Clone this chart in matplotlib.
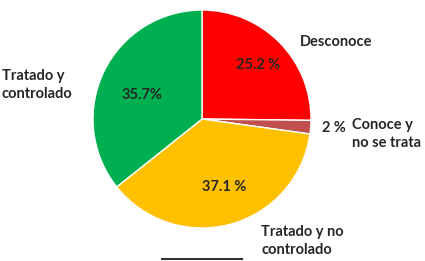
import matplotlib.pyplot as plt
from matplotlib.lines import Line2D

# slices, clockwise from 12 o'clock
labels = ["Desconoce", "Conoce y\nno se trata", "Tratado y no\ncontrolado", "Tratado y\ncontrolado"]
values = [25.2, 2.0, 37.1, 35.7]
pct_text = ["25.2 %", "2 %", "37.1 %", "35.7%"]
colors = ["#FF0000", "#C0504D", "#FFC000", "#00B050"]

# picture geometry in pixels
W, H = 425, 261
cx, cy, r = 202, 119, 109


def to_data(px, py):
    return (px - cx) / r, (cy - py) / r


plt.rcParams['font.family'] = ['Lato', 'DejaVu Sans']

fig = plt.figure(figsize=(W / 100, H / 100), dpi=100)
ax = fig.add_axes([0, 0, 1, 1])

ax.pie(values, colors=colors, startangle=90, counterclock=False, radius=1,
       wedgeprops=dict(edgecolor="white", linewidth=1))

# pie resets the limits, so set them afterwards
ax.set_xlim(-cx / r, (W - cx) / r)
ax.set_ylim(-(H - cy) / r, cy / r)
ax.axis("off")

txt = "#262626"
fs = 10.5

# percentages
pct_pos = [(258, 65), (334, 128), (224, 187), (142, 95)]
for s, (px, py) in zip(pct_text, pct_pos):
    x, y = to_data(px, py)
    ax.text(x, y, s, ha="center", va="center", fontsize=fs, fontweight="bold", color=txt)

# category names
name_pos = [(300, 42), (352, 134), (261, 241), (2, 85)]
for s, (px, py) in zip(labels, name_pos):
    x, y = to_data(px, py)
    ax.text(x, y, s, ha="left", va="center", fontsize=fs, fontweight="bold",
            color=txt, linespacing=1.35)

# dark bar cut off at the bottom
fig.add_artist(Line2D([162 / W, 242 / W], [1 - 259 / H, 1 - 259 / H],
                      color="#333333", linewidth=1.5))

fig.savefig("out.png", dpi=100)
